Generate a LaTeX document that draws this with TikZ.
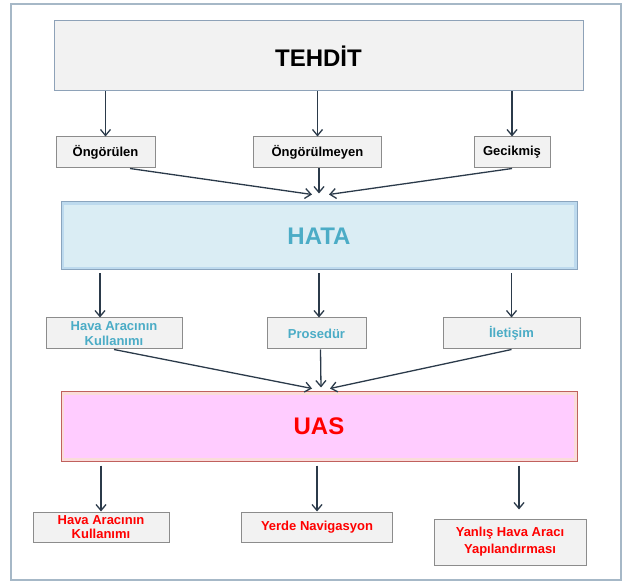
\documentclass[tikz,border=0pt]{standalone}
\usepackage{fontspec}
\setmainfont{Liberation Sans}
\usetikzlibrary{arrows.meta,positioning,calc}

\definecolor{kutugri}{HTML}{F2F2F2}
\definecolor{kutukenar}{HTML}{8C8C8C}
\definecolor{cerceve}{HTML}{A6B8C7}
\definecolor{tehditkenar}{HTML}{8EA2B8}
\definecolor{hatamavi}{HTML}{DAEDF4}
\definecolor{hatabant}{HTML}{BDDAEE}
\definecolor{hatakenar}{HTML}{8AA5BE}
\definecolor{hatayazi}{HTML}{4BACC6}
\definecolor{uaspembe}{HTML}{FFCCFF}
\definecolor{uasbant}{HTML}{FADCDA}
\definecolor{uaskenar}{HTML}{C0605D}
\definecolor{okrenk}{HTML}{2B3A4A}

\begin{document}
\begin{tikzpicture}[x=1pt, y=-1pt,
  >={Straight Barb[length=6pt,width=10pt]},
  ok/.style={->, draw=okrenk, line width=1.3pt},
  buyuk/.style={rectangle, line width=1pt, minimum width=516pt, minimum height=69pt, font=\fontsize{24}{28}\selectfont\bfseries},
  bant/.style={fill=#1, path picture={\fill[\pgfkeysvalueof{/tikz/ic}] ([shift={(3pt,3pt)}]path picture bounding box.south west) rectangle ([shift={(-3pt,-3pt)}]path picture bounding box.north east);}},
  ic/.initial=white,
  kucuk/.style={draw=kutukenar, fill=kutugri, rectangle, line width=1pt, inner sep=0pt, minimum height=31pt, align=center, font=\fontsize{13}{14.5}\selectfont\bfseries},
]
\useasboundingbox (0,0) rectangle (625,583);
% çerçeve
\draw[cerceve, line width=1.5pt] (11,4) rectangle (621,580);

% tehdit
\node[buyuk, draw=tehditkenar, fill=kutugri, minimum width=529pt, minimum height=70pt] (tehdit) at (318.5,56) {TEHDİT};
\node[kucuk, minimum width=99pt] (ongorulen) at (105.5,152.5) {Öngörülen};
\node[kucuk, minimum width=128pt] (ongorulmeyen) at (317.5,152.5) {Öngörülmeyen};
\node[kucuk, minimum width=76pt] (gecikmis) at (512,152.5) {Gecikmiş};

% hata
\node[buyuk, draw=hatakenar, ic=hatamavi, bant=hatabant, text=hatayazi, minimum height=68pt] (hata) at (319,236) {HATA};
\node[kucuk, text=hatayazi, minimum width=136pt] (hava1) at (114,333.5) {Hava Aracının\\Kullanımı};
\node[kucuk, text=hatayazi, minimum width=99pt] (prosedur) at (316.5,333.5) {Prosedür};
\node[kucuk, text=hatayazi, minimum width=137pt] (iletisim) at (511.5,333.5) {İletişim};

% uas
\node[buyuk, draw=uaskenar, ic=uaspembe, bant=uasbant, text=red] (uas) at (319,426.5) {UAS};
\node[kucuk, text=red, minimum width=136pt, minimum height=30pt] (hava2) at (101,527) {Hava Aracının\\Kullanımı};
\node[kucuk, text=red, minimum width=151pt, minimum height=30pt] (yerde) at (317,527) {Yerde Navigasyon};
\node[kucuk, text=red, minimum width=152pt, minimum height=46pt, font=\fontsize{13}{17}\selectfont\bfseries] (yanlis) at (510,542) {Yanlış Hava Aracı\\Yapılandırması};

\coordinate (hatagiris) at ([yshift=8pt]hata.north);
\coordinate (uasgiris) at ([yshift=4pt]uas.north);

% bağlantılar
\draw[ok] (tehdit.south -| ongorulen.north) -- (ongorulen.north);
\draw[ok] (tehdit.south -| ongorulmeyen.north) -- (ongorulmeyen.north);
\draw[ok] (tehdit.south -| gecikmis.north) -- (gecikmis.north);
\draw[ok] ([xshift=24.5pt]ongorulen.south) -- ([xshift=-7pt,yshift=-1pt]hatagiris);
\draw[ok] (ongorulmeyen.south -| hatagiris) -- (hatagiris);
\draw[ok] (gecikmis.south) -- ([xshift=10pt,yshift=-1pt]hatagiris);

\draw[ok, shorten <=3pt] ([xshift=-219pt]hata.south) -- ([xshift=-219pt]hata.south |- hava1.north);
\draw[ok, shorten <=3pt] (hata.south) -- (hata.south |- prosedur.north);
\draw[ok, shorten <=3pt] (hata.south -| iletisim.north) -- (iletisim.north);
\draw[ok] (hava1.south) -- ([xshift=-7pt,yshift=-1pt]uasgiris);
\draw[ok] ([xshift=4pt]prosedur.south) -- ([xshift=2pt]uasgiris);
\draw[ok] (iletisim.south) -- ([xshift=11pt,yshift=-1pt]uasgiris);

\draw[ok, shorten <=4pt] (uas.south -| hava2.north) -- (hava2.north);
\draw[ok, shorten <=4pt] (uas.south -| yerde.north) -- (yerde.north);
\draw[ok, shorten <=4pt, shorten >=9pt] ([xshift=9pt]uas.south -| yanlis.north) -- ([xshift=9pt]yanlis.north);
\end{tikzpicture}
\end{document}
